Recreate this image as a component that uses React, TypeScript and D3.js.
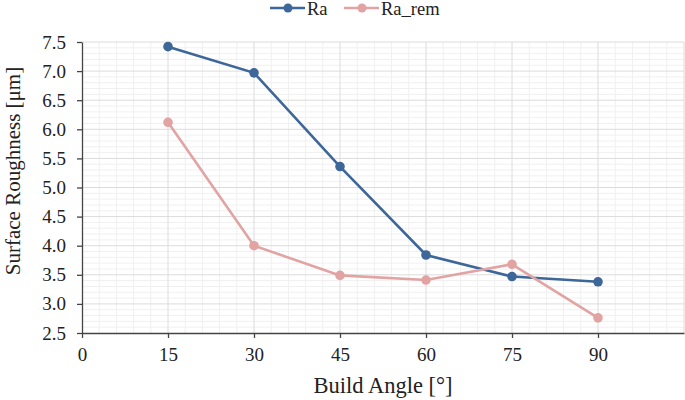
import { useEffect, useRef } from "react";
import * as d3 from "d3";

// build angles and roughness values
const angles = [15, 30, 45, 60, 75, 90];
const ra = [7.42, 6.97, 5.36, 3.84, 3.47, 3.38];
const raRem = [6.12, 4.0, 3.49, 3.41, 3.68, 2.76];
const xTicks = [0, 15, 30, 45, 60, 75, 90];
const yTicks = [2.5, 3.0, 3.5, 4.0, 4.5, 5.0, 5.5, 6.0, 6.5, 7.0, 7.5];
const seriesNames = ["Ra", "Ra_rem"];
const colors = ["#3d6699", "#e2a3a3"];

const width = 685;
const height = 400;
const margin = { top: 42, right: 1, bottom: 67, left: 82 };
const font = "'Liberation Serif', 'Times New Roman', serif";

export default function App() {
  const xAxisRef = useRef<SVGGElement>(null);
  const yAxisRef = useRef<SVGGElement>(null);

  const xScale = d3.scaleLinear().domain([0, 105]).range([margin.left, width - margin.right]);
  const yScale = d3.scaleLinear().domain([2.5, 7.5]).range([height - margin.bottom, margin.top]);

  const line = d3
    .line<number>()
    .x((_, i) => xScale(angles[i]))
    .y((d) => yScale(d));

  // minor grid: every 3 deg on x, every 0.1 on y
  const minorX = d3.range(0, 106, 3).filter((v) => v % 15 !== 0);
  const minorY = d3.range(25, 76, 1).filter((v) => v % 5 !== 0).map((v) => v / 10);

  useEffect(() => {
    const xAxis = d3.axisBottom(xScale).tickValues(xTicks).tickSize(5).tickSizeOuter(0).tickFormat(d3.format("d"));
    const yAxis = d3.axisLeft(yScale).tickValues(yTicks).tickSize(5).tickSizeOuter(0).tickFormat(d3.format(".1f"));
    const gx = d3.select(xAxisRef.current!).call(xAxis);
    const gy = d3.select(yAxisRef.current!).call(yAxis);
    [gx, gy].forEach((g) => {
      g.attr("font-family", font).attr("font-size", 19);
      g.select(".domain").attr("stroke", "#444").attr("stroke-width", 1.3);
      g.selectAll(".tick line").attr("stroke", "#444").attr("stroke-width", 1.3);
      g.selectAll(".tick text").attr("fill", "#222");
    });
    gx.selectAll(".tick text").attr("y", 10).attr("dy", "0.95em");
    gy.selectAll(".tick text").attr("x", -16);
  }, []);

  const plotTop = margin.top;
  const plotBottom = height - margin.bottom;
  const plotLeft = margin.left;
  const plotRight = width - margin.right;

  return (
    <svg
      width={width}
      height={height}
      style={{ position: "absolute", left: 0, top: 0, background: "#fff" }}
    >
      {/* minor grid */}
      {minorX.map((v) => (
        <line key={"mx" + v} x1={xScale(v)} x2={xScale(v)} y1={plotTop} y2={plotBottom} stroke="#f0f0f0" />
      ))}
      {minorY.map((v) => (
        <line key={"my" + v} x1={plotLeft} x2={plotRight} y1={yScale(v)} y2={yScale(v)} stroke="#f0f0f0" />
      ))}
      {/* major grid */}
      {xTicks.concat([105]).filter((v) => v > 0).map((v) => (
        <line key={"gx" + v} x1={xScale(v)} x2={xScale(v)} y1={plotTop} y2={plotBottom} stroke="#dcdcdc" />
      ))}
      {yTicks.filter((v) => v > 2.5).map((v) => (
        <line key={"gy" + v} x1={plotLeft} x2={plotRight} y1={yScale(v)} y2={yScale(v)} stroke="#dcdcdc" />
      ))}

      <g ref={xAxisRef} transform={`translate(0,${plotBottom})`} />
      <g ref={yAxisRef} transform={`translate(${plotLeft},0)`} />

      {[ra, raRem].map((vals, s) => (
        <g key={seriesNames[s]}>
          <path d={line(vals) || ""} fill="none" stroke={colors[s]} strokeWidth={2.6} />
          {vals.map((v, i) => (
            <circle key={i} cx={xScale(angles[i])} cy={yScale(v)} r={4.8} fill={colors[s]} />
          ))}
        </g>
      ))}

      {/* legend */}
      {seriesNames.map((name, s) => {
        const x0 = s === 0 ? 270 : 344;
        return (
          <g key={"lg" + name}>
            <line x1={x0} x2={x0 + 35} y1={8} y2={8} stroke={colors[s]} strokeWidth={2.6} />
            <circle cx={x0 + 18} cy={8} r={4.5} fill={colors[s]} />
            <text x={x0 + 37} y={15} fontFamily={font} fontSize={18.5} fill="#222">
              {name}
            </text>
          </g>
        );
      })}

      <text
        x={(plotLeft + plotRight) / 2}
        y={393}
        textAnchor="middle"
        fontFamily={font}
        fontSize={22.5}
        fill="#222"
      >
        Build Angle [°]
      </text>
      <text
        transform={`translate(20,171) rotate(-90)`}
        textAnchor="middle"
        fontFamily={font}
        fontSize={21}
        fill="#222"
      >
        Surface Roughness [μm]
      </text>
    </svg>
  );
}
